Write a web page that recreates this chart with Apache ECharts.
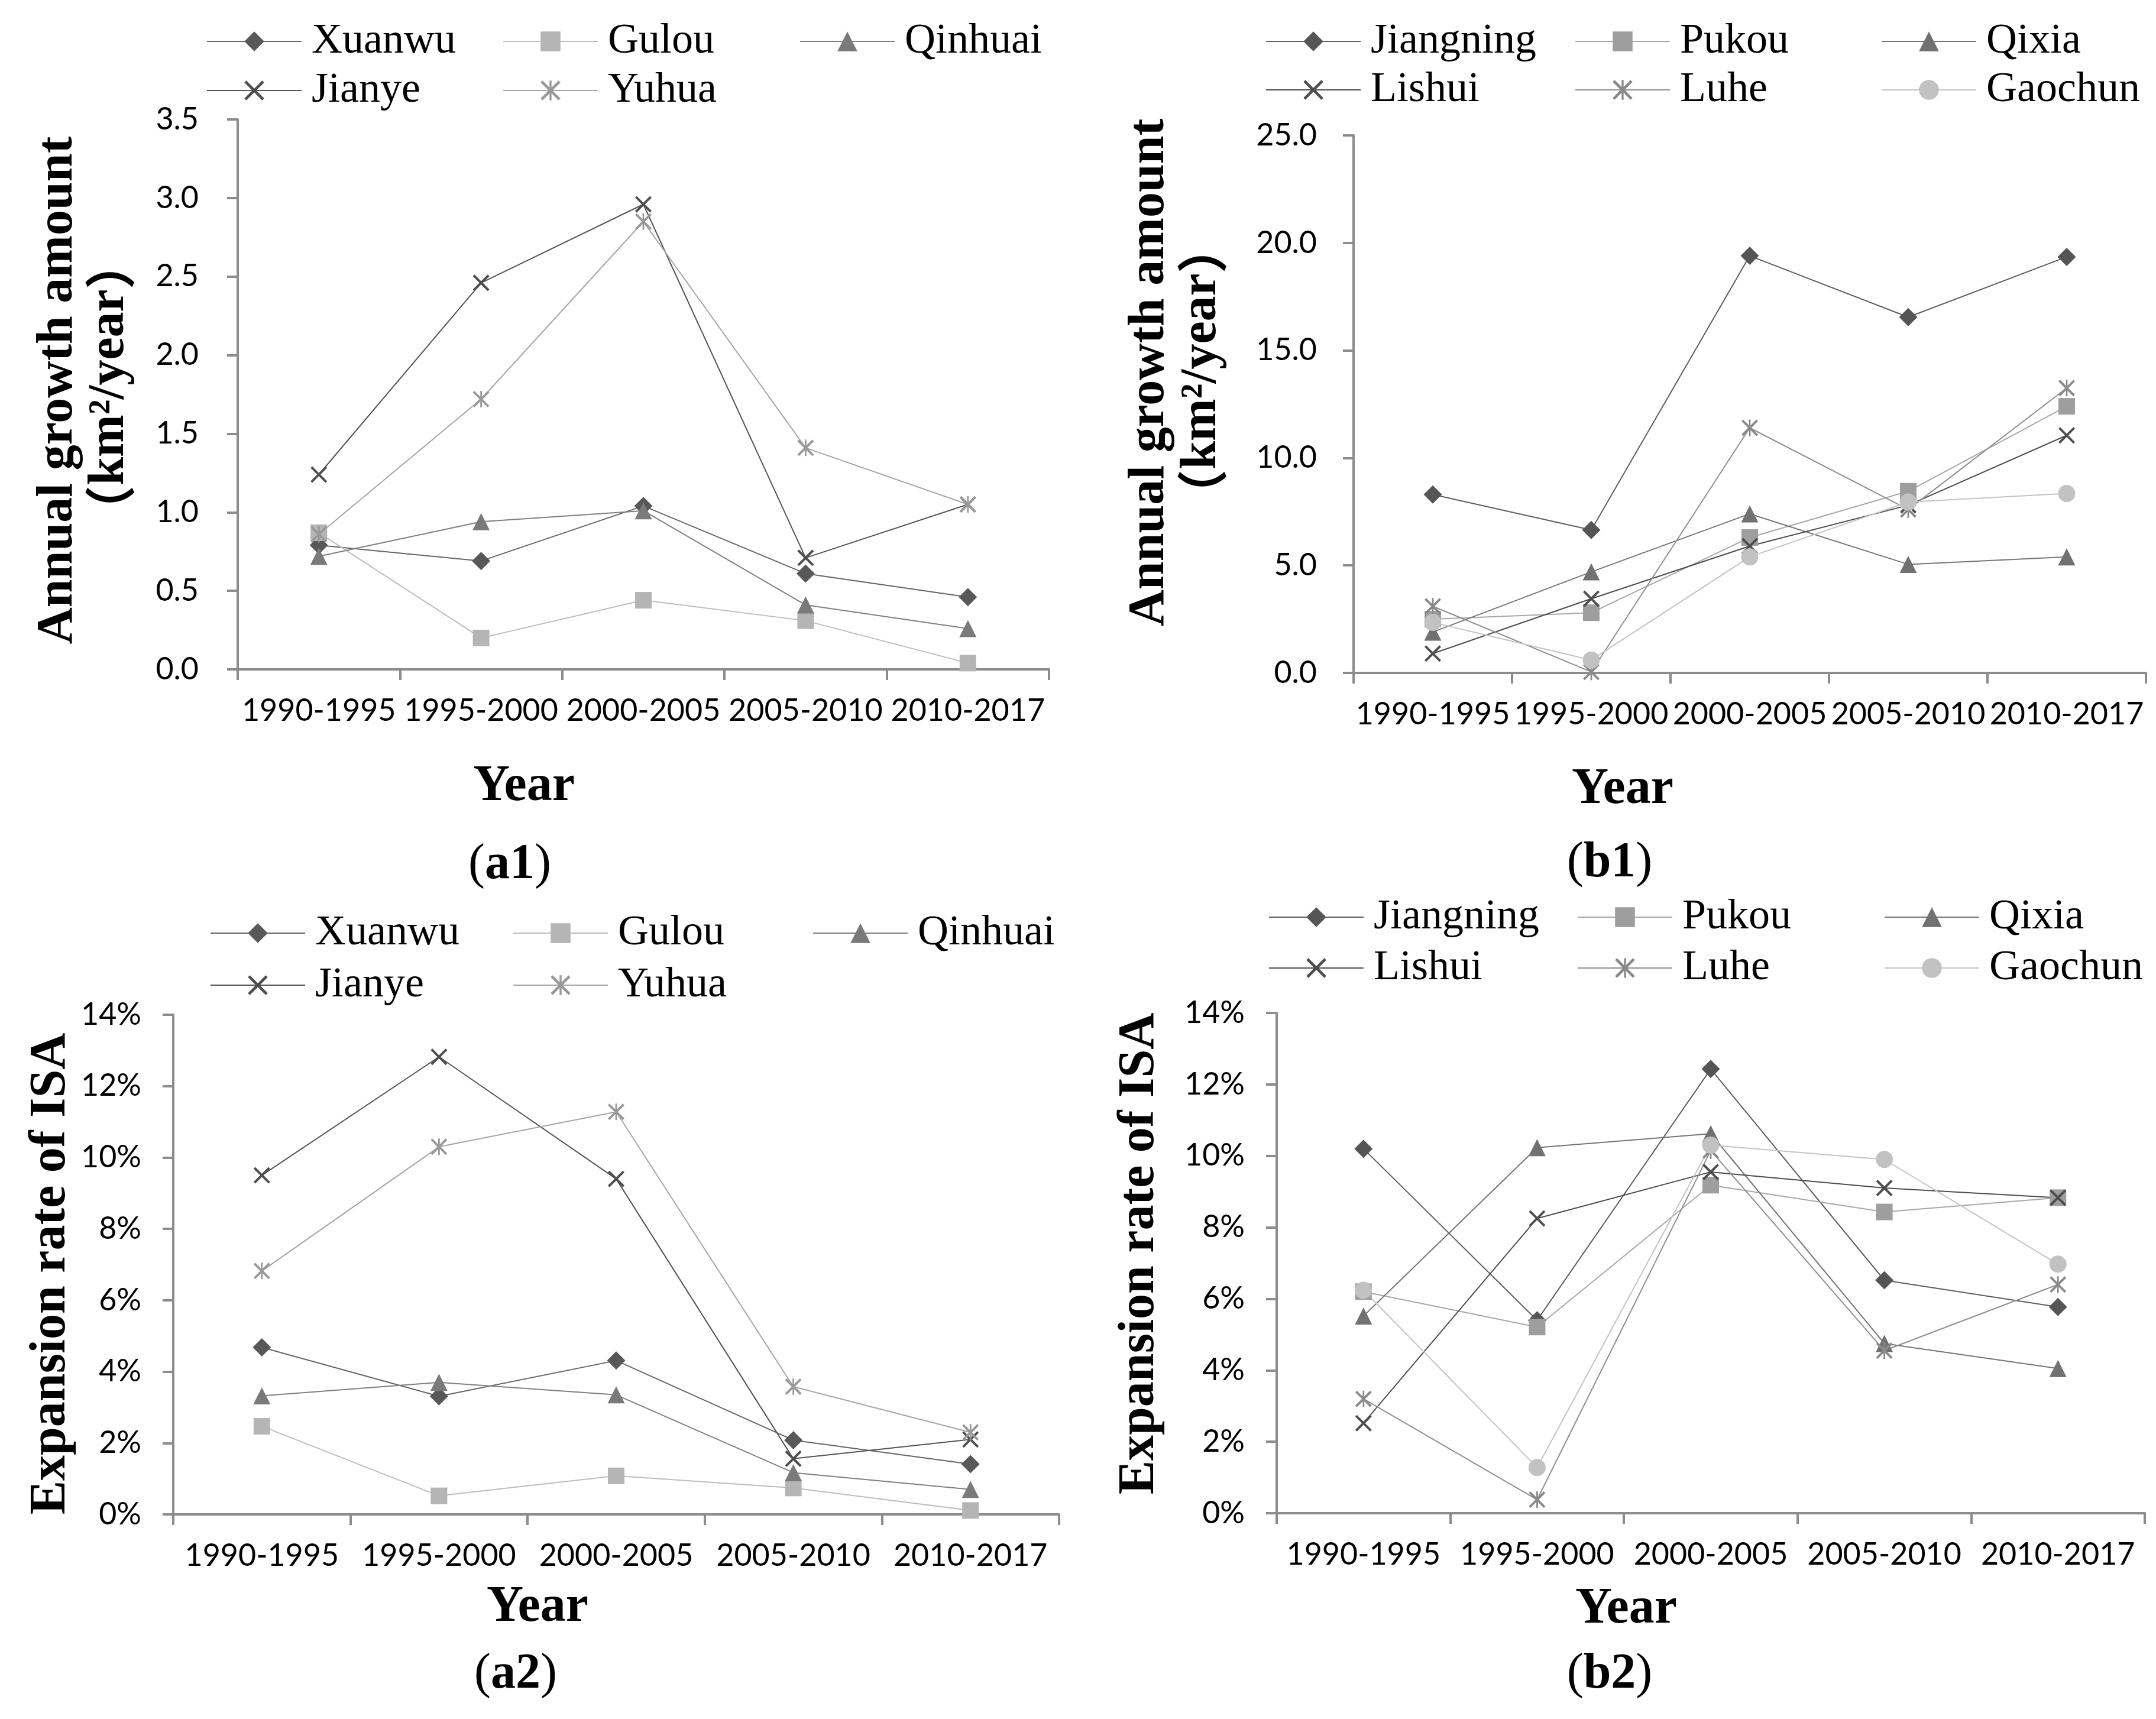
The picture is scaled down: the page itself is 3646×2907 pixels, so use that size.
<!DOCTYPE html>
<html>
<head>
<meta charset="utf-8">
<script src="https://cdn.jsdelivr.net/npm/echarts@6/dist/echarts.min.js"></script>
<style>
html,body{margin:0;padding:0;background:#fff;}
#chart{width:3646px;height:2907px;}
</style>
</head>
<body>
<div id="chart"></div>
<script>
// ---------- data ----------
const categories = ['1990-1995', '1995-2000', '2000-2005', '2005-2010', '2010-2017'];

// (a1) annual growth amount, km2/year
const xuanwuA1 = [0.79, 0.69, 1.04, 0.61, 0.46];
const gulouA1 = [0.87, 0.20, 0.44, 0.31, 0.04];
const qinhuaiA1 = [0.72, 0.94, 1.01, 0.41, 0.26];
const jianyeA1 = [1.24, 2.46, 2.96, 0.71, 1.05];
const yuhuaA1 = [0.86, 1.72, 2.85, 1.41, 1.05];

// (b1) annual growth amount, km2/year
const jiangningB1 = [8.3, 6.65, 19.4, 16.55, 19.35];
const pukouB1 = [2.5, 2.8, 6.3, 8.45, 12.4];
const qixiaB1 = [1.9, 4.7, 7.4, 5.05, 5.4];
const lishuiB1 = [0.9, 3.45, 5.9, 7.8, 11.05];
const luheB1 = [3.1, 0.05, 11.4, 7.6, 13.25];
const gaochunB1 = [2.35, 0.6, 5.4, 7.95, 8.35];

// (a2) expansion rate of ISA, %
const xuanwuA2 = [4.68, 3.31, 4.31, 2.08, 1.41];
const gulouA2 = [2.47, 0.52, 1.08, 0.74, 0.11];
const qinhuaiA2 = [3.32, 3.70, 3.35, 1.17, 0.70];
const jianyeA2 = [9.50, 12.82, 9.40, 1.56, 2.10];
const yuhuaA2 = [6.82, 10.30, 11.28, 3.58, 2.30];

// (b2) expansion rate of ISA, %
const jiangningB2 = [10.2, 5.4, 12.43, 6.52, 5.77];
const pukouB2 = [6.2, 5.21, 9.18, 8.43, 8.83];
const qixiaB2 = [5.52, 10.23, 10.62, 4.75, 4.05];
const lishuiB2 = [2.52, 8.25, 9.55, 9.1, 8.83];
const luheB2 = [3.2, 0.38, 10.15, 4.55, 6.4];
const gaochunB2 = [6.24, 1.28, 10.3, 9.9, 6.97];

const yTicksA1 = {min: 0, max: 3.5, interval: 0.5};
const yTicksB1 = {min: 0, max: 25, interval: 5};
const yTicksPct = {min: 0, max: 14, interval: 2};

// ---------- styles ----------
const SERIF = '"Liberation Serif", "DejaVu Serif", "Noto Sans CJK SC", serif';
const CJK = '"Noto Sans CJK SC", "Noto Sans CJK JP", sans-serif';
const TICKFONT = 'Lato, Carlito, "Liberation Sans", sans-serif';
const AXIS_COLOR = '#8c8c8c';
const X_PATH = 'path://M2,0 L10,8 L18,0 L20,2 L12,10 L20,18 L18,20 L10,12 L2,20 L0,18 L8,10 L0,2 Z';
const STAR_PATH = 'path://M2,0 L10,8 L18,0 L20,2 L12,10 L20,18 L18,20 L10,12 L2,20 L0,18 L8,10 L0,2 Z M9,0 L11,0 L11,20 L9,20 Z';

const styleMap = {
  Xuanwu:   {symbol: 'diamond',  size: 31, marker: '#585858', line: '#666666'},
  Gulou:    {symbol: 'rect',     size: 28, marker: '#b5b5b5', line: '#bdbdbd'},
  Qinhuai:  {symbol: 'triangle', size: 29, marker: '#7a7a7a', line: '#808080'},
  Jianye:   {symbol: X_PATH,     size: 28, marker: '#4d4d4d', line: '#555555'},
  Yuhua:    {symbol: STAR_PATH,  size: 28, marker: '#999999', line: '#a6a6a6'},
  Jiangning:{symbol: 'diamond',  size: 31, marker: '#555555', line: '#5f5f5f'},
  Pukou:    {symbol: 'rect',     size: 28, marker: '#9e9e9e', line: '#a8a8a8'},
  Qixia:    {symbol: 'triangle', size: 29, marker: '#717171', line: '#767676'},
  Lishui:   {symbol: X_PATH,     size: 28, marker: '#4d4d4d', line: '#4d4d4d'},
  Luhe:     {symbol: STAR_PATH,  size: 28, marker: '#8a8a8a', line: '#8f8f8f'},
  Gaochun:  {symbol: 'circle',   size: 29, marker: '#c2c2c2', line: '#c4c4c4'}
};

function mkSeries(name, data, idx) {
  const s = styleMap[name];
  return {
    name: name, type: 'line', xAxisIndex: idx, yAxisIndex: idx, data: data,
    symbol: s.symbol, symbolSize: s.size, showAllSymbol: true,
    itemStyle: {color: s.marker},
    lineStyle: {color: s.line, width: 2},
    emphasis: {disabled: true},
    animation: false
  };
}

const grids = [
  {left: 402, top: 202, width: 1372, height: 930},
  {left: 2289, top: 229, width: 1340, height: 909},
  {left: 293, top: 1716, width: 1498, height: 845},
  {left: 2159, top: 1713, width: 1468, height: 846}
];

function mkX(idx) {
  return {
    type: 'category', gridIndex: idx, data: categories, boundaryGap: true,
    axisLine: {lineStyle: {color: AXIS_COLOR, width: 4}},
    axisTick: {show: true, length: 18, lineStyle: {color: AXIS_COLOR, width: 4}},
    axisLabel: {color: '#000', fontFamily: TICKFONT, fontSize: 52, margin: 44, interval: 0},
    splitLine: {show: false}
  };
}
function mkY(idx, t, fmt, margin) {
  return {
    type: 'value', gridIndex: idx, min: t.min, max: t.max, interval: t.interval,
    axisLine: {show: true, lineStyle: {color: AXIS_COLOR, width: 4}},
    axisTick: {show: true, length: 18, lineStyle: {color: AXIS_COLOR, width: 4}},
    axisLabel: {color: '#000', fontFamily: TICKFONT, fontSize: 52, margin: margin, formatter: fmt},
    splitLine: {show: false}
  };
}

function mkLegend(names, left, top, gap) {
  return {
    data: names, orient: 'vertical', left: left, top: top, itemGap: gap,
    itemWidth: 160, itemHeight: 42, selectedMode: false,
    textStyle: {fontFamily: SERIF, fontSize: 72, lineHeight: 72, color: '#000', padding: [0, 0, 0, 12]}
  };
}

const titleFont = 'bold 86px ' + SERIF;
function vText(text, x, y) {
  return {type: 'text', x: x, y: y, rotation: Math.PI / 2,
    style: {text: text, font: titleFont, fill: '#000', textAlign: 'center', textVerticalAlign: 'middle'}};
}
function unitText(x, y) {
  return {type: 'text', x: x, y: y, rotation: Math.PI / 2,
    style: {text: '{p|（}{t|km²/year}{p|）}', textAlign: 'center', textVerticalAlign: 'middle',
      rich: {p: {fontFamily: CJK, fontSize: 86, fontWeight: 'bold', color: '#000'},
             t: {fontFamily: SERIF, fontSize: 86, fontWeight: 'bold', color: '#000'}}}};
}
function hText(text, x, y) {
  return {type: 'text', x: x, y: y,
    style: {text: text, font: 'bold 86px ' + SERIF, fill: '#000', textAlign: 'center', textVerticalAlign: 'middle'}};
}
function panelLabel(tag, x, y) {
  return {type: 'text', x: x, y: y,
    style: {text: '{r|(}{b|' + tag + '}{r|)}', textAlign: 'center', textVerticalAlign: 'middle',
      rich: {r: {fontFamily: SERIF, fontSize: 84, color: '#000'},
             b: {fontFamily: SERIF, fontSize: 84, fontWeight: 'bold', color: '#000'}}}};
}

const option = {
  backgroundColor: '#fff',
  animation: false,
  grid: grids,
  xAxis: [mkX(0), mkX(1), mkX(2), mkX(3)],
  yAxis: [
    mkY(0, yTicksA1, v => v.toFixed(1), 66),
    mkY(1, yTicksB1, v => v.toFixed(1), 62),
    mkY(2, yTicksPct, v => v + '%', 54),
    mkY(3, yTicksPct, v => v + '%', 54)
  ],
  legend: [
    mkLegend(['Xuanwu', 'Jianye'], 344, 29, 11),
    mkLegend(['Gulou', 'Yuhua'], 845, 29, 11),
    mkLegend(['Qinhuai'], 1347, 29, 11),
    mkLegend(['Jiangning', 'Lishui'], 2135, 29, 10),
    mkLegend(['Pukou', 'Luhe'], 2658, 29, 10),
    mkLegend(['Qixia', 'Gaochun'], 3176, 29, 10),
    mkLegend(['Xuanwu', 'Jianye'], 350, 1537, 16),
    mkLegend(['Gulou', 'Yuhua'], 862, 1537, 16),
    mkLegend(['Qinhuai'], 1369, 1537, 16),
    mkLegend(['Jiangning', 'Lishui'], 2140, 1510, 14),
    mkLegend(['Pukou', 'Luhe'], 2662, 1510, 14),
    mkLegend(['Qixia', 'Gaochun'], 3181, 1510, 14)
  ],
  graphic: [
    vText('Annual growth amount', 99, 660),
    unitText(186, 655),
    vText('Annual growth amount', 1945, 630),
    unitText(2033, 628),
    vText('Expansion rate of ISA', 87, 2154),
    vText('Expansion rate of ISA', 1928, 2120),
    hText('Year', 886, 1331),
    hText('Year', 2744, 1336),
    hText('Year', 909, 2719),
    hText('Year', 2750, 2722),
    panelLabel('a1', 862, 1463),
    panelLabel('b1', 2722, 1460),
    panelLabel('a2', 872, 2832),
    panelLabel('b2', 2722, 2832)
  ],
  series: [
    mkSeries('Xuanwu', xuanwuA1, 0),
    mkSeries('Gulou', gulouA1, 0),
    mkSeries('Qinhuai', qinhuaiA1, 0),
    mkSeries('Jianye', jianyeA1, 0),
    mkSeries('Yuhua', yuhuaA1, 0),
    mkSeries('Jiangning', jiangningB1, 1),
    mkSeries('Pukou', pukouB1, 1),
    mkSeries('Qixia', qixiaB1, 1),
    mkSeries('Lishui', lishuiB1, 1),
    mkSeries('Luhe', luheB1, 1),
    mkSeries('Gaochun', gaochunB1, 1),
    mkSeries('Xuanwu', xuanwuA2, 2),
    mkSeries('Gulou', gulouA2, 2),
    mkSeries('Qinhuai', qinhuaiA2, 2),
    mkSeries('Jianye', jianyeA2, 2),
    mkSeries('Yuhua', yuhuaA2, 2),
    mkSeries('Jiangning', jiangningB2, 3),
    mkSeries('Pukou', pukouB2, 3),
    mkSeries('Qixia', qixiaB2, 3),
    mkSeries('Lishui', lishuiB2, 3),
    mkSeries('Luhe', luheB2, 3),
    mkSeries('Gaochun', gaochunB2, 3)
  ]
};

const chart = echarts.init(document.getElementById('chart'), null, {renderer: 'canvas', width: 3646, height: 2907});
chart.setOption(option);
</script>
</body>
</html>
